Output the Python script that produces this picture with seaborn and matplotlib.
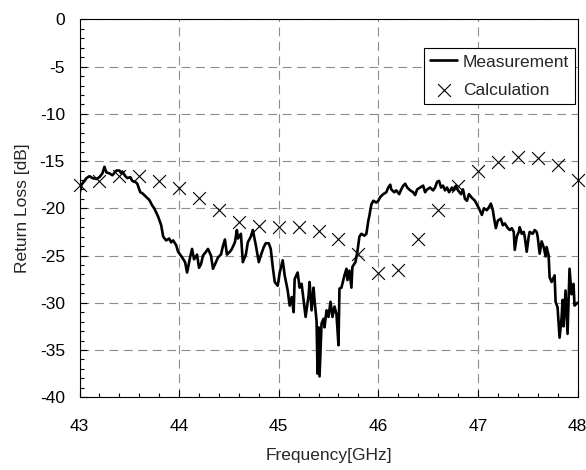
import matplotlib
matplotlib.use("Agg")
import matplotlib.pyplot as plt
import seaborn as sns
import pandas as pd
from matplotlib.ticker import MultipleLocator

meas_freq = [43.00, 43.02, 43.07, 43.10, 43.13, 43.17, 43.20, 43.23, 43.25, 43.27,
             43.30, 43.33, 43.37, 43.40, 43.42, 43.43, 43.46, 43.48, 43.51, 43.53,
             43.56, 43.58, 43.61, 43.63, 43.67, 43.70, 43.73, 43.75, 43.79, 43.82,
             43.84, 43.87, 43.90, 43.92, 43.94, 43.97, 43.99, 44.03, 44.06, 44.08,
             44.11, 44.13, 44.15, 44.18, 44.20, 44.22, 44.24, 44.27, 44.29, 44.32,
             44.34, 44.37, 44.39, 44.42, 44.44, 44.46, 44.48, 44.51, 44.53, 44.56,
             44.58, 44.59, 44.62, 44.64, 44.67, 44.69, 44.72, 44.74, 44.77, 44.80,
             44.82, 44.85, 44.87, 44.90, 44.92, 44.94, 44.96, 44.99, 45.01, 45.04,
             45.06, 45.09, 45.11, 45.13, 45.15, 45.16, 45.19, 45.21, 45.23, 45.25,
             45.27, 45.30, 45.31, 45.33, 45.35, 45.36, 45.38, 45.39, 45.40, 45.41,
             45.43, 45.45, 45.46, 45.48, 45.50, 45.52, 45.54, 45.56, 45.58, 45.60,
             45.61, 45.63, 45.66, 45.68, 45.69, 45.71, 45.73, 45.74, 45.77, 45.79,
             45.81, 45.83, 45.86, 45.88, 45.90, 45.91, 45.93, 45.95, 45.98, 46.00,
             46.02, 46.05, 46.08, 46.10, 46.12, 46.13, 46.16, 46.18, 46.21, 46.23,
             46.25, 46.27, 46.29, 46.32, 46.35, 46.37, 46.39, 46.42, 46.45, 46.47,
             46.49, 46.52, 46.55, 46.57, 46.59, 46.61, 46.63, 46.65, 46.67, 46.69,
             46.71, 46.74, 46.75, 46.78, 46.80, 46.83, 46.85, 46.87, 46.89, 46.91,
             46.94, 46.97, 46.99, 47.01, 47.04, 47.06, 47.09, 47.11, 47.13, 47.15,
             47.16, 47.18, 47.20, 47.23, 47.25, 47.27, 47.30, 47.32, 47.34, 47.36,
             47.37, 47.39, 47.41, 47.42, 47.44, 47.46, 47.47, 47.49, 47.51, 47.52,
             47.55, 47.57, 47.59, 47.60, 47.62, 47.64, 47.66, 47.68, 47.69, 47.71,
             47.72, 47.74, 47.77, 47.78, 47.80, 47.82, 47.84, 47.85, 47.86, 47.88,
             47.90, 47.91, 47.92, 47.94, 47.96, 47.97, 48.00]
meas_rl = [-18.4, -17.5, -16.8, -16.6, -16.8, -16.9, -16.7, -16.3, -15.6, -16.2,
           -16.3, -16.5, -16.0, -16.0, -16.3, -16.1, -16.6, -16.8, -16.7, -17.1,
           -17.2, -17.4, -18.3, -18.4, -18.8, -19.1, -19.7, -20.0, -20.9, -21.8,
           -23.0, -23.4, -23.2, -23.6, -23.4, -23.9, -24.6, -25.2, -25.7, -26.8,
           -25.2, -24.3, -25.4, -24.9, -26.3, -25.9, -25.0, -24.6, -24.3, -25.0,
           -26.4, -25.7, -25.2, -24.9, -24.0, -23.3, -24.9, -24.6, -24.3, -23.6,
           -22.3, -23.2, -22.7, -25.7, -24.9, -23.6, -23.0, -22.3, -23.9, -25.7,
           -25.0, -24.1, -23.7, -23.7, -24.3, -26.2, -27.8, -28.2, -26.8, -25.5,
           -27.1, -28.7, -30.3, -29.4, -31.0, -27.5, -26.8, -28.4, -28.0, -29.8,
           -31.5, -29.2, -27.8, -30.8, -28.4, -29.8, -31.9, -37.5, -32.6, -37.8,
           -32.2, -31.7, -32.6, -30.8, -31.5, -29.9, -31.5, -30.4, -31.2, -34.5,
           -28.5, -28.4, -27.1, -26.4, -27.6, -26.6, -28.4, -26.2, -25.7, -24.6,
           -23.0, -22.7, -22.9, -22.7, -21.3, -20.8, -19.6, -19.2, -19.4, -19.2,
           -18.8, -18.5, -18.3, -17.8, -17.5, -18.0, -18.3, -18.1, -18.5, -18.0,
           -17.6, -17.4, -17.8, -18.1, -18.3, -18.6, -18.0, -17.8, -17.6, -18.3,
           -18.0, -17.8, -18.1, -17.8, -17.2, -17.1, -17.8, -17.6, -18.1, -17.8,
           -18.3, -17.8, -18.1, -17.6, -18.1, -18.5, -18.0, -19.0, -19.2, -18.5,
           -18.9, -19.2, -19.6, -20.0, -20.7, -20.0, -20.2, -19.9, -19.5, -20.2,
           -20.9, -22.1, -21.3, -21.1, -21.8, -21.6, -22.1, -22.3, -22.1, -22.5,
           -24.4, -23.0, -22.5, -22.0, -22.7, -22.5, -23.0, -24.6, -23.0, -22.5,
           -22.7, -22.3, -22.5, -23.0, -24.8, -23.5, -24.1, -25.1, -24.1, -25.0,
           -27.3, -27.8, -27.1, -29.9, -30.5, -33.7, -31.6, -29.7, -32.5, -28.7,
           -33.3, -30.0, -26.4, -29.1, -28.0, -30.3, -30.0]

# Calculation
calc_freq = [43.0, 43.2, 43.4, 43.6, 43.8, 44.0, 44.2, 44.4, 44.6, 44.8, 45.0, 45.2, 45.4,
             45.6, 45.8, 46.0, 46.2, 46.4, 46.6, 46.8, 47.0, 47.2, 47.4, 47.6, 47.8, 48.0]
calc_rl = [-17.5, -17.1, -16.6, -16.6, -17.1, -17.9, -18.9, -20.2, -21.5, -21.9, -22.0, -22.0,
           -22.4, -23.2, -24.8, -26.8, -26.5, -23.3, -20.2, -17.6, -16.1, -15.1, -14.6,
           -14.7, -15.4, -17.0]

x_ticks = [43, 44, 45, 46, 47, 48]
x_tick_labels = ["43", "44", "45", "46", "47", "48"]
y_ticks = [0, -5, -10, -15, -20, -25, -30, -35, -40]
y_tick_labels = ["0", "-5", "-10", "-15", "-20", "-25", "-30", "-35", "-40"]

sns.set_style("white")
plt.rcParams["font.family"] = ["Liberation Sans", "DejaVu Sans"]

FS = 12.5

fig = plt.figure(figsize=(5.86, 4.70), dpi=100)
ax = fig.add_axes([0.1357, 0.1549, 0.8498, 0.8038])

meas = pd.DataFrame({"f": meas_freq, "rl": meas_rl})
calc = pd.DataFrame({"f": calc_freq, "rl": calc_rl})

sns.lineplot(data=meas, x="f", y="rl", ax=ax, color="black", linewidth=1.9,
             label="Measurement", sort=False, zorder=3)
sns.scatterplot(data=calc, x="f", y="rl", ax=ax, marker="x", color="black",
                s=85, linewidth=0.8, label="Calculation", clip_on=False, zorder=4)

ax.set_xlim(43, 48)
ax.set_ylim(-40, 0)
ax.set_xticks(x_ticks)
ax.set_xticklabels(x_tick_labels)
ax.set_yticks(y_ticks)
ax.set_yticklabels(y_tick_labels)
ax.xaxis.set_minor_locator(MultipleLocator(0.2))
ax.yaxis.set_minor_locator(MultipleLocator(1))

ax.tick_params(axis="both", which="major", direction="in", length=5, width=0.8,
               labelsize=FS, color="black", labelcolor="black")
ax.tick_params(axis="both", which="minor", direction="in", length=3, width=0.8, color="black")
ax.tick_params(axis="x", which="major", pad=16)
ax.tick_params(axis="y", which="major", pad=10.5)
ax.tick_params(axis="both", which="both", bottom=True, left=True, top=False, right=False)

ax.grid(True, which="major", linestyle=(0, (8, 5)), color="#8c8c8c", linewidth=0.8)
for s in ax.spines.values():
    s.set_color("black")
    s.set_linewidth(0.8)

ax.set_xlabel("Frequency[GHz]", fontsize=FS, labelpad=10)
ax.set_ylabel("Return Loss [dB]", fontsize=FS, labelpad=7)

leg = ax.legend(loc="upper right", bbox_to_anchor=(0.995, 0.9235), fontsize=FS,
                frameon=True, fancybox=False, shadow=False, framealpha=1,
                edgecolor="black", handlelength=1.6, handletextpad=0.3,
                labelspacing=0.75, borderpad=0.35, borderaxespad=0)
leg.get_frame().set_linewidth(0.8)

fig.savefig("out.png", dpi=100)
